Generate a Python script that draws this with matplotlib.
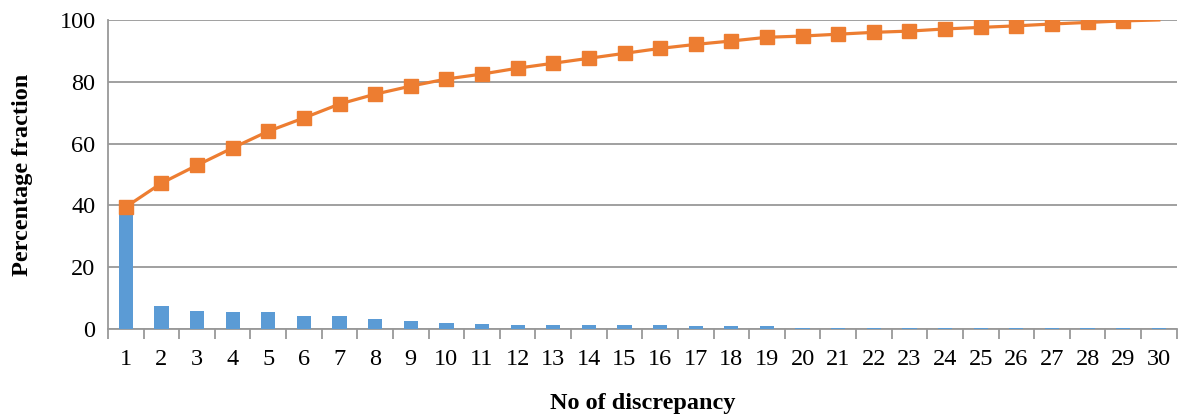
import numpy as np
import matplotlib.pyplot as plt

plt.rcParams['font.family'] = ['Liberation Serif', 'DejaVu Serif']

# data
categories = list(range(1, 31))
bar_values = [39.4, 7.6, 5.9, 5.4, 5.4, 4.3, 4.3, 3.2, 2.6, 2.1,
              1.5, 1.4, 1.4, 1.4, 1.4, 1.4, 0.9, 0.9, 0.9, 0.4,
              0.4, 0.4, 0.4, 0.4, 0.4, 0.4, 0.4, 0.4, 0.4, 0.4]
cumulative = [39.5, 47.2, 53.0, 58.6, 64.0, 68.3, 72.8, 76.0, 78.6, 80.9,
              82.5, 84.4, 86.0, 87.6, 89.2, 90.8, 92.1, 93.2, 94.4, 94.8,
              95.4, 96.0, 96.4, 97.1, 97.6, 98.1, 98.7, 99.2, 99.7, 100.0]
y_ticks = [0, 20, 40, 60, 80, 100]

fig = plt.figure(figsize=(11.79, 4.16), dpi=100)
ax = fig.add_axes([0.0916, 0.209, 0.9064, 0.743])

ax.bar(categories, bar_values, width=0.4, color='#5B9BD5', zorder=3)
ax.plot(categories, cumulative, color='#ED7D31', lw=2.3, marker='s',
        markersize=10.5, markevery=list(range(29)), zorder=4)

ax.set_xlim(0.5, 30.5)
ax.set_ylim(0, 100)
ax.set_yticks(y_ticks)
ax.set_xticks(categories)
ax.set_xticks(np.arange(0.5, 31, 1), minor=True)
ax.tick_params(axis='x', which='major', length=0, labelsize=17.5, pad=14)
ax.tick_params(axis='x', which='minor', length=7, color='#999999', width=1.3)
ax.tick_params(axis='y', length=0, labelsize=17.5, pad=9)

ax.grid(axis='y', color='#999999', lw=1.3, zorder=0)
for s in ['top', 'right']:
    ax.spines[s].set_visible(False)
for s in ['left', 'bottom']:
    ax.spines[s].set_color('#999999')
    ax.spines[s].set_linewidth(1.3)

ax.set_xlabel('No of discrepancy', fontsize=17.5, fontweight='bold', labelpad=17)
ax.set_ylabel('Percentage fraction', fontsize=17.5, fontweight='bold', labelpad=19)

plt.savefig('out.png', dpi=100)
